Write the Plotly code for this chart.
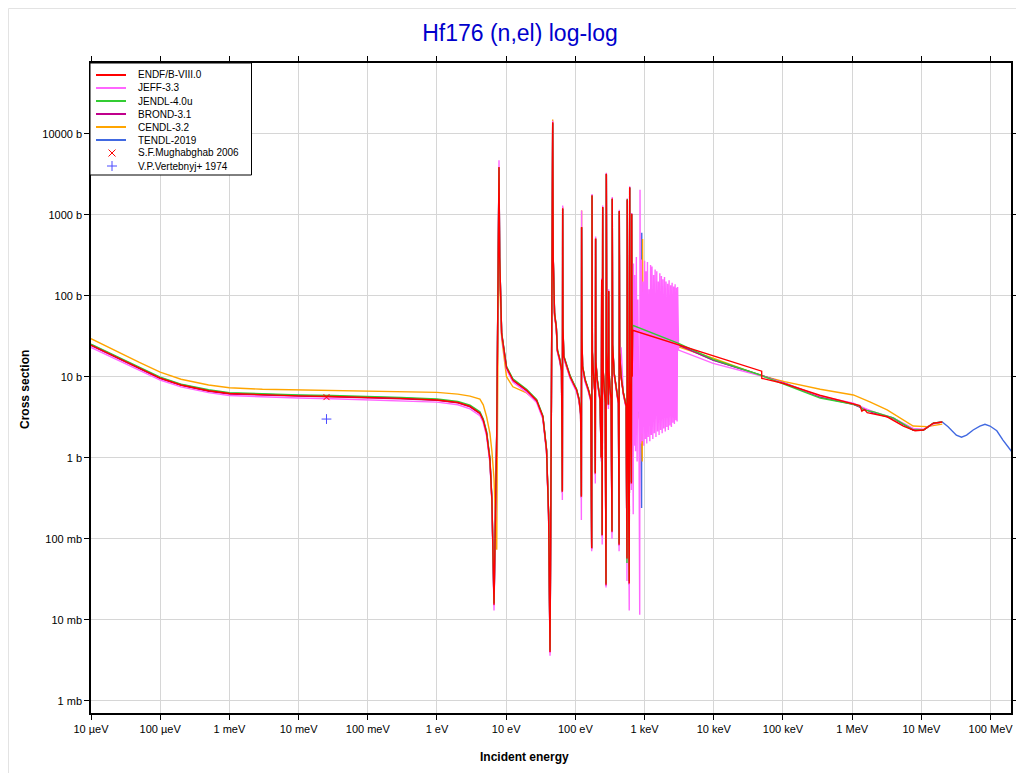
import plotly.graph_objects as go

# ---------------- data (energies in eV, cross sections in barns) ----------------
E_low = [1e-5, 2e-5, 5e-5, 1e-4, 2e-4, 5e-4, 1e-3, 3e-3, 1e-2, 3e-2,
         0.1, 0.3, 1.0, 2.0, 3.0, 4.17, 4.66, 5.21, 5.82]

endf_low = [24.6, 18.5, 12.5, 9.6, 7.9, 6.7, 6.2, 5.95, 5.8, 5.7,
            5.55, 5.4, 5.15, 4.8, 4.3, 3.55, 2.9, 2.0, 0.94]
jeff_low = [23.0, 17.4, 11.8, 9.1, 7.5, 6.35, 5.85, 5.6, 5.45, 5.35,
            5.2, 5.05, 4.85, 4.5, 4.0, 3.3, 2.7, 1.85, 0.85]
jendl_low = [25.3, 19.0, 12.9, 9.9, 8.1, 6.9, 6.35, 6.1, 5.95, 5.85,
             5.7, 5.55, 5.3, 4.95, 4.45, 3.7, 3.0, 2.1, 1.0]
brond_low = [24.3, 18.3, 12.4, 9.5, 7.8, 6.6, 6.1, 5.9, 5.75, 5.65,
             5.5, 5.35, 5.1, 4.75, 4.25, 3.5, 2.85, 1.95, 0.92]
cendl_low = [29.5, 22.0, 15.0, 11.4, 9.3, 7.9, 7.3, 7.0, 6.85, 6.75,
             6.65, 6.55, 6.4, 6.1, 5.75, 5.3, 4.5, 3.2, 2.0]
tendl_low = [24.8, 18.7, 12.6, 9.7, 8.0, 6.75, 6.25, 6.0, 5.85, 5.75,
             5.6, 5.45, 5.2, 4.85, 4.35, 3.6, 2.95, 2.05, 0.96]

# resolved resonance region grid
E_rr = [6.22, 6.5, 6.67, 7.3, 7.7, 7.87, 8.05, 8.6, 10.1, 12.5,
        19.7, 27.5, 33.9, 38.3, 41.0, 43.0, 45.0, 46.3, 47.0, 47.8,
        50.0, 53.0, 55.0, 59.6, 63.0, 64.8, 65.5, 66.2, 68.0, 75.0,
        84.0, 93.0, 104.0, 113.0, 119.0, 122.0, 123.0, 124.5, 127.0, 138.0,
        154.0, 167.0, 172.0, 174.0, 176.0, 182.0, 190.0, 194.0, 196.0, 198.0,
        207.0, 227.0, 236.0, 240.0, 244.0, 248.0, 252.0, 262.0, 270.0, 277.0,
        280.0, 284.0, 293.0, 300.0, 303.0, 306.0, 315.0, 328.0, 338.0, 341.0,
        345.0, 363.0, 396.0, 419.0, 428.0, 431.0, 436.0, 458.0, 494.0, 541.0,
        556.0, 562.0, 570.0, 600.0, 609.0, 615.0, 645.0, 651.0, 662.0]

endf_rr = [0.3, 0.045, 0.0153, 2.0, 300, 3880, 300, 34, 13, 9.1,
           6.8, 5.1, 3.2, 1.24, 0.2, 0.004, 5, 500, 13900, 300,
           60, 41, 21, 16, 12, 0.38, 1200, 40, 17.7, 13.3,
           10, 8.3, 6.85, 5.2, 3.5, 0.33, 705, 30, 13.3, 9.1,
           6.85, 5.2, 0.076, 1740, 20, 11, 6.85, 0.64, 507, 15,
           9.1, 5.2, 1.0, 158, 0.11, 1245, 12, 6.85, 4.7, 0.027,
           3210, 20, 10, 4.5, 114, 12, 7.5, 5.2, 0.122, 1580,
           25, 11, 6.85, 4.7, 0.084, 1110, 20, 10, 6.2, 4.3,
           0.057, 1540, 16, 0.028, 2190, 10, 0.48, 1030, 10]
jeff_rr = [0.28, 0.04, 0.013, 1.8, 350, 4700, 320, 32, 12.3, 8.6,
           6.4, 4.8, 3.0, 1.15, 0.18, 0.0036, 5, 520, 14500, 300,
           58, 39, 20, 15, 11.3, 0.3, 1300, 38, 16.8, 12.6,
           9.5, 7.9, 6.5, 4.9, 3.3, 0.17, 1130, 30, 12.6, 8.6,
           6.5, 4.9, 0.07, 1800, 19, 10.4, 6.5, 0.48, 540, 14,
           8.6, 4.9, 0.9, 165, 0.085, 1300, 11.4, 6.5, 4.45, 0.025,
           3300, 19, 9.5, 4.0, 120, 11.4, 7.1, 4.9, 0.1, 1650,
           24, 10.4, 6.5, 4.45, 0.07, 1150, 19, 23, 5.9, 4.1,
           0.03, 1600, 15, 0.013, 2250, 9.5, 0.4, 1050, 9.5]
jendl_rr = [0.31, 0.047, 0.016, 2.1, 300, 3800, 300, 35, 13.4, 9.4,
            7.0, 5.25, 3.3, 1.28, 0.21, 0.0042, 5.2, 500, 13500, 300,
            62, 42, 21.6, 16.5, 12.4, 0.39, 1180, 41, 18.2, 13.7,
            10.3, 8.55, 7.05, 5.35, 3.6, 0.34, 700, 31, 13.7, 9.4,
            7.05, 5.35, 0.078, 1720, 20.6, 11.3, 7.05, 0.66, 500, 15.5,
            9.4, 5.35, 1.03, 155, 0.113, 1230, 12.4, 7.05, 4.85, 0.028,
            3150, 20.6, 10.3, 4.6, 112, 12.4, 7.7, 5.35, 0.126, 1560,
            25.7, 11.3, 7.05, 4.85, 0.087, 1100, 20.6, 10.3, 6.4, 4.4,
            0.05, 1560, 16.5, 0.03, 2150, 10.3, 0.5, 1020, 10.3]
brond_rr = [0.29, 0.044, 0.015, 1.95, 290, 3750, 290, 33, 12.7, 8.9,
            6.65, 5.0, 3.1, 1.2, 0.19, 0.0039, 4.9, 490, 13500, 290,
            58, 40, 20.5, 15.6, 11.7, 0.37, 1170, 39, 17.3, 13,
            9.8, 8.1, 6.7, 5.1, 3.4, 0.32, 690, 29, 13, 8.9,
            6.7, 5.1, 0.074, 1700, 19.5, 10.8, 6.7, 0.62, 495, 14.7,
            8.9, 5.1, 0.98, 155, 0.107, 1220, 11.7, 6.7, 4.6, 0.026,
            3150, 19.5, 9.8, 4.4, 112, 11.7, 7.3, 5.1, 0.119, 1550,
            24.5, 10.8, 6.7, 4.6, 0.082, 1090, 19.5, 9.8, 6.1, 4.2,
            0.056, 1510, 15.6, 0.027, 2150, 9.8, 0.47, 1010, 9.8]
cendl_rr = [1.2, 0.75, 0.55, 0.073, 200, 3000, 150, 30, 10, 7.5,
            6.3, 5.0, 3.2, 1.24, 0.2, 0.005, 5, 500, 15000, 300,
            55, 40, 21, 16, 12, 0.4, 1250, 40, 17.5, 13,
            10, 8.3, 6.85, 5.2, 3.5, 0.35, 1130, 30, 13.3, 9.1,
            6.85, 5.2, 0.08, 1700, 20, 11, 6.85, 0.66, 520, 15,
            9.1, 5.2, 1.0, 160, 0.12, 1240, 12, 6.85, 4.7, 0.03,
            3150, 20, 10, 4.5, 114, 12, 7.5, 5.2, 0.13, 1560,
            25, 11, 6.85, 4.7, 0.09, 1100, 20, 10, 6.2, 4.3,
            0.06, 1500, 16, 0.03, 2100, 10, 0.5, 1000, 10]
tendl_rr = [0.3, 0.046, 0.0155, 2.0, 300, 3850, 300, 34, 13.1, 9.2,
            6.85, 5.15, 3.2, 1.25, 0.2, 0.0041, 5, 500, 13800, 300,
            60, 41, 21, 16.2, 12.1, 0.38, 1190, 40, 17.9, 13.4,
            10.1, 8.4, 6.9, 5.25, 3.55, 0.33, 700, 30, 13.4, 9.2,
            6.9, 5.25, 0.077, 1730, 20.2, 11.1, 6.9, 0.65, 505, 15.1,
            9.2, 5.25, 1.0, 157, 0.111, 1240, 12.1, 6.9, 4.75, 0.027,
            3200, 20.2, 10.1, 4.5, 113, 12.1, 7.6, 5.25, 0.123, 1575,
            25.2, 11.1, 6.9, 4.75, 0.085, 1105, 20.2, 10.1, 6.25, 4.35,
            0.058, 1530, 16.2, 0.028, 2180, 10.1, 0.49, 1025, 10.1]

# above the resolved region
E_hi_endf = [673, 49200, 49400, 1e5, 3.4e5, 1.04e6, 1.29e6, 1.38e6, 1.5e6, 1.65e6,
             2.0e6, 3.2e6, 5.5e6, 8.1e6, 1.07e7, 1.49e7, 2.0e7]
endf_hi = [37.5, 11.7, 9.55, 8.3, 5.9, 4.56, 4.4, 3.75, 3.95, 3.6,
           3.5, 3.2, 2.46, 2.15, 2.2, 2.66, 2.76]

E_hi_jeff = [673, 685, 690, 705, 720, 740, 760, 780, 800, 830,
             850, 859, 880, 900, 925, 950, 975, 1000, 1025, 1050,
             1075, 1100, 1130, 1160, 1190, 1220, 1250, 1280, 1315, 1350,
             1385, 1420, 1460, 1500, 1540, 1580, 1620, 1660, 1705, 1750,
             1795, 1840, 1890, 1940, 1990, 2040, 2095, 2150, 2205, 2260,
             2320, 2380, 2440, 2500, 2565, 2630, 2695, 2760, 2830, 2900,
             2950, 3000, 3100, 9800, 49200, 1e5, 3.4e5, 1.04e6, 1.5e6, 2.0e6,
             3.9e6, 7.6e6, 1.07e7, 1.49e7, 2.0e7]
jeff_hi = [5, 0.2, 250, 1.4, 180, 1.2, 300, 0.9, 90, 2.0,
           0.0115, 2040, 1.5, 280, 1.6, 150, 1.4, 270, 1.7, 200,
           1.5, 260, 1.8, 120, 1.6, 240, 1.9, 230, 1.7, 180,
           2.0, 210, 1.8, 200, 2.1, 150, 1.9, 190, 2.2, 175,
           2.0, 160, 2.3, 170, 2.1, 150, 2.4, 140, 2.2, 155,
           2.5, 135, 2.4, 145, 2.7, 130, 2.6, 138, 2.9, 125,
           2.8, 128, 21.3, 14.6, 10.2, 8.4, 5.8, 4.7, 4.1, 3.7,
           3.1, 2.3, 2.25, 2.6, 2.76]

E_hi_jendl = [673, 3100, 9800, 47000, 3.45e5, 1.04e6, 1.3e6, 1.45e6, 2.0e6, 3.9e6,
              7.6e6, 1.07e7, 1.49e7, 2.0e7]
jendl_hi = [43, 25.8, 16.4, 10.5, 5.45, 4.56, 4.3, 3.9, 3.7, 3.1,
            2.2, 2.2, 2.66, 2.76]

E_hi_brond = [673, 3100, 9800, 49200, 1e5, 3.45e5, 1.04e6, 2.0e6, 3.9e6, 7.6e6,
              1.07e7, 1.49e7, 2.0e7]
brond_hi = [40, 24.5, 16.0, 10.4, 8.4, 5.6, 4.55, 3.6, 3.05, 2.2,
            2.2, 2.65, 2.75]

E_hi_cendl = [673, 700, 900, 925, 935, 950, 1000, 3100, 9800, 49200,
              1.05e5, 3.45e5, 1.04e6, 1.8e6, 3.2e6, 5.5e6, 7.6e6, 1.2e7, 1.49e7, 2.0e7]
cendl_hi = [8, 5, 2.5, 0.9, 500, 12, 35, 23.4, 16.9, 10.2,
            8.7, 7.0, 5.95, 4.9, 3.9, 2.9, 2.46, 2.42, 2.5, 2.6]

E_hi_tendl = [673, 700, 880, 905, 910, 925, 1000, 3100, 9800, 49200,
              1e5, 3.45e5, 1.04e6, 2.0e6, 3.9e6, 7.6e6, 1.07e7, 1.49e7, 2.0e7, 2.43e7,
              3.2e7, 3.8e7, 4.5e7, 5.6e7, 7.0e7, 8.3e7, 9.8e7, 1.23e8, 1.51e8, 2.0e8]
tendl_hi = [8, 5, 3, 0.24, 600, 10, 36, 24.5, 16, 10.3,
            8.5, 5.7, 4.6, 3.6, 3.1, 2.2, 2.2, 2.66, 2.76, 2.41,
            1.9, 1.79, 1.9, 2.2, 2.46, 2.58, 2.46, 2.15, 1.65, 1.2]

# experimental points
mugh_E = [0.0253]
mugh_xs = [5.6]
vert_E = [0.0253]
vert_xs = [3.0]

x_tickvals = [1e-5, 1e-4, 1e-3, 1e-2, 1e-1, 1, 10, 100, 1e3, 1e4, 1e5, 1e6, 1e7, 1e8]
x_ticktext = ["10 µeV", "100 µeV", "1 meV", "10 meV", "100 meV", "1 eV", "10 eV",
              "100 eV", "1 keV", "10 keV", "100 keV", "1 MeV", "10 MeV", "100 MeV"]
y_tickvals = [1e-3, 1e-2, 1e-1, 1, 10, 100, 1e3, 1e4]
y_ticktext = ["1 mb", "10 mb", "100 mb", "1 b", "10 b", "100 b", "1000 b", "10000 b"]

legend_names = ["ENDF/B-VIII.0", "JEFF-3.3", "JENDL-4.0u", "BROND-3.1", "CENDL-3.2",
                "TENDL-2019", "S.F.Mughabghab 2006", "V.P.Vertebnyj+ 1974"]
legend_colors = ["#ff0000", "#ff66ff", "#33cc33", "#c0008c", "#ffa500", "#4169e1",
                 "#ff0000", "#4b4bff"]

# ---------------- figure ----------------
FONT = "Liberation Sans, Arial, sans-serif"
W, H = 1024, 773
ML, MR, MT, MB = 83, 21, 55, 68
PW, PH = W - ML - MR, H - MT - MB


def px(fx):   # figure pixel x -> paper x
    return (fx - ML) / PW


def py(fy):   # figure pixel y -> paper y
    return (MT + PH - fy) / PH


fig = go.Figure()

libs = [
    ("TENDL-2019", "#4169e1", E_low + E_rr + E_hi_tendl, tendl_low + tendl_rr + tendl_hi),
    ("CENDL-3.2", "#ffa500", E_low + E_rr + E_hi_cendl, cendl_low + cendl_rr + cendl_hi),
    ("BROND-3.1", "#c0008c", E_low + E_rr + E_hi_brond, brond_low + brond_rr + brond_hi),
    ("JEFF-3.3", "#ff66ff", E_low + E_rr + E_hi_jeff, jeff_low + jeff_rr + jeff_hi),
    ("JENDL-4.0u", "#33cc33", E_low + E_rr + E_hi_jendl, jendl_low + jendl_rr + jendl_hi),
    ("ENDF/B-VIII.0", "#ff0000", E_low + E_rr + E_hi_endf, endf_low + endf_rr + endf_hi),
]
for name, col, ex, ys in libs:
    fig.add_trace(go.Scatter(x=ex, y=ys, mode="lines", name=name, showlegend=False,
                             line=dict(color=col, width=1.4)))

fig.add_trace(go.Scatter(x=mugh_E, y=mugh_xs, mode="markers", name="S.F.Mughabghab 2006",
                         showlegend=False,
                         marker=dict(symbol="x-thin-open", size=6, color="#ff0000",
                                     line=dict(color="#ff0000", width=1))))
fig.add_trace(go.Scatter(x=vert_E, y=vert_xs, mode="markers", name="V.P.Vertebnyj+ 1974",
                         showlegend=False,
                         marker=dict(symbol="cross-thin-open", size=7, color="#4b4bff",
                                     line=dict(color="#4b4bff", width=1))))

axis_common = dict(type="log", showgrid=True, gridcolor="#d6d6d6", gridwidth=1,
                   showline=True, linecolor="black", linewidth=1.5, mirror="ticks",
                   ticks="outside", ticklen=5, tickcolor="black", zeroline=False,
                   tickfont=dict(family=FONT, size=11, color="black"))

fig.update_xaxes(range=[-5, 8.295], tickvals=x_tickvals, ticktext=x_ticktext, **axis_common)
fig.update_yaxes(range=[-3.152, 4.873], tickvals=y_tickvals, ticktext=y_ticktext, **axis_common)

# hand-drawn legend box (compact rows like the reference)
shapes = [
    dict(type="rect", xref="paper", yref="paper",
         x0=px(0.5), x1=px(W - 0.5), y0=py(H - 0.5), y1=py(0.5),
         line=dict(color="#e3e3e3", width=1), fillcolor="rgba(0,0,0,0)", layer="below"),
    dict(type="rect", xref="paper", yref="paper",
         x0=px(82), x1=px(243.5), y0=py(167), y1=py(55),
         line=dict(color="black", width=1), fillcolor="white", layer="above"),
]
annotations = []
for i, (nm, col) in enumerate(zip(legend_names, legend_colors)):
    yy = 67 + 13 * i
    if i < 6:
        shapes.append(dict(type="line", xref="paper", yref="paper",
                           x0=px(88), x1=px(118), y0=py(yy), y1=py(yy),
                           line=dict(color=col, width=2), layer="above"))
    elif i == 6:
        s = 3.5
        shapes.append(dict(type="path", xref="paper", yref="paper", layer="above",
                           path=f"M {px(104 - s)} {py(yy - s)} L {px(104 + s)} {py(yy + s)} "
                                f"M {px(104 - s)} {py(yy + s)} L {px(104 + s)} {py(yy - s)}",
                           line=dict(color=col, width=1)))
    else:
        s = 5
        shapes.append(dict(type="path", xref="paper", yref="paper", layer="above",
                           path=f"M {px(104 - s)} {py(yy)} L {px(104 + s)} {py(yy)} "
                                f"M {px(104)} {py(yy + s)} L {px(104)} {py(yy - s)}",
                           line=dict(color=col, width=1)))
    annotations.append(dict(text=nm, xref="paper", yref="paper", x=px(128), y=py(yy),
                            xanchor="left", yanchor="middle", showarrow=False,
                            font=dict(family=FONT, size=10, color="black")))

annotations += [
    dict(text="<b>Incident energy</b>", xref="paper", yref="paper",
         x=px(516), y=py(749), xanchor="center", yanchor="middle",
         showarrow=False, font=dict(family=FONT, size=12, color="black")),
    dict(text="<b>Cross section</b>", xref="paper", yref="paper",
         x=px(17), y=py(382), xanchor="center", yanchor="middle",
         textangle=-90, showarrow=False, font=dict(family=FONT, size=12, color="black")),
]

fig.update_layout(
    width=W, height=H,
    margin=dict(l=ML, r=MR, t=MT, b=MB),
    paper_bgcolor="white", plot_bgcolor="white",
    font=dict(family=FONT, size=11, color="black"),
    title=dict(text="Hf176 (n,el) log-log", x=0.5, xanchor="center",
               y=1 - 25 / H, yanchor="middle", xref="container", yref="container",
               font=dict(family=FONT, size=23, color="#0000cc")),
    showlegend=False,
    annotations=annotations,
    shapes=shapes,
)

fig.write_html("out.html")
